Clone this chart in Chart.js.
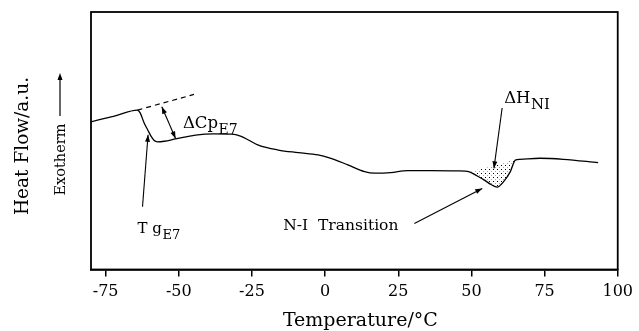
<!DOCTYPE html>
<html>
<head>
<meta charset="utf-8">
<script src="https://cdn.jsdelivr.net/npm/chart.js@4.4.1/dist/chart.umd.min.js"></script>
<style>
  html, body { margin: 0; padding: 0; background: #fff; }
  canvas { display: block; }
</style>
</head>
<body>
<canvas id="c" width="639" height="331"></canvas>
<script>
// ---- Data ----
const temperature = [-80.2, -72.0, -64.1, -63.2, -61.8, -60.6, -59.5, -58.4, -57.3, -55.0, -51.1, -44.3, -38.0, -31.9, -28.9, -26.2, -22.8, -16.0, -9.2, -2.4, 2.0, 7.8, 13.5, 16.9, 22.4, 28.2, 36.0, 45.2, 49.3, 52.0, 54.3, 56.7, 58.8, 61.0, 63.3, 65.0, 66.6, 73.4, 81.4, 93.3];
const heatFlow    = [5.73, 5.96, 6.19, 6.08, 5.68, 5.42, 5.18, 5.01, 4.96, 4.98, 5.07, 5.22, 5.27, 5.26, 5.18, 5.03, 4.83, 4.64, 4.54, 4.45, 4.32, 4.06, 3.80, 3.74, 3.76, 3.84, 3.84, 3.83, 3.79, 3.63, 3.48, 3.30, 3.20, 3.41, 3.80, 4.25, 4.28, 4.32, 4.28, 4.15];
// extrapolated glassy baseline (dashed)
const extrapT = [-64.1, -44.8];
const extrapY = [6.19, 6.80];
// baseline closing the N-I endotherm
const niBaseT = [49.3, 65.0];
const niBaseY = [3.79, 4.25];
// tick labels
const tickValues = [-75, -50, -25, 0, 25, 50, 75, 100];
// annotation arrows [T1, y1, T2, y2]
const arrowDeltaCp = [-55.8, 6.32, -51.1, 5.09];
const arrowTg      = [-62.4, 2.44, -60.5, 5.23];
const arrowDeltaH  = [60.5, 6.27, 57.7, 3.93];
const arrowNI      = [30.5, 1.79, 53.7, 3.15];
// label anchors [T, y]
const labelDeltaCp = [-48.6, 5.51];
const labelTg      = [-64.1, 1.40];
const labelDeltaH  = [61.2, 6.45];
const labelNI      = [-14.3, 1.53];

const FONT = '"DejaVu Serif", "Liberation Serif", serif';

const pts = (xs, ys) => xs.map((x, i) => ({ x: x, y: ys[i] }));
const curvePts = pts(temperature, heatFlow);
const dipPts = curvePts.filter(p => p.x >= niBaseT[0] && p.x <= niBaseT[1]);

// stipple pattern
const pc = document.createElement('canvas');
pc.width = 4; pc.height = 4;
const pctx = pc.getContext('2d');
pctx.fillStyle = '#000';
pctx.fillRect(1, 1, 1, 1);
pctx.fillStyle = 'rgba(0,0,0,0.35)';
pctx.fillRect(3, 3, 1, 1);
const stipple = pctx.createPattern(pc, 'repeat');

function arrowHead(ctx, x1, y1, x2, y2, len, wid) {
  const a = Math.atan2(y2 - y1, x2 - x1);
  ctx.beginPath();
  ctx.moveTo(x2, y2);
  ctx.lineTo(x2 - len * Math.cos(a) + wid * Math.sin(a), y2 - len * Math.sin(a) - wid * Math.cos(a));
  ctx.lineTo(x2 - len * Math.cos(a) - wid * Math.sin(a), y2 - len * Math.sin(a) + wid * Math.cos(a));
  ctx.closePath();
  ctx.fill();
}

function drawArrow(chart, a, both) {
  const ctx = chart.ctx, xs = chart.scales.x, ys = chart.scales.y;
  const x1 = xs.getPixelForValue(a[0]), y1 = ys.getPixelForValue(a[1]);
  const x2 = xs.getPixelForValue(a[2]), y2 = ys.getPixelForValue(a[3]);
  ctx.beginPath();
  ctx.moveTo(x1, y1); ctx.lineTo(x2, y2);
  ctx.stroke();
  arrowHead(ctx, x1, y1, x2, y2, 7, 2.5);
  if (both) arrowHead(ctx, x2, y2, x1, y1, 7, 2.5);
}

function drawSubLabel(chart, anchor, main, sub, size, subSize) {
  const ctx = chart.ctx;
  const x = chart.scales.x.getPixelForValue(anchor[0]);
  const y = chart.scales.y.getPixelForValue(anchor[1]);
  ctx.textBaseline = 'alphabetic';
  ctx.textAlign = 'left';
  ctx.font = size + 'px ' + FONT;
  ctx.fillText(main, x, y);
  const w = ctx.measureText(main).width;
  ctx.font = subSize + 'px ' + FONT;
  ctx.fillText(sub, x + w + 0.5, y + size * 0.36);
}

const decor = {
  id: 'decor',
  afterDraw(chart) {
    const ctx = chart.ctx, ca = chart.chartArea;
    ctx.save();
    ctx.strokeStyle = '#000'; ctx.fillStyle = '#000';
    // frame
    ctx.lineWidth = 1.8;
    ctx.strokeRect(ca.left, ca.top, ca.right - ca.left, ca.bottom - ca.top);
    // arrows
    ctx.lineWidth = 1.1;
    drawArrow(chart, arrowDeltaCp, true);
    drawArrow(chart, arrowTg, false);
    drawArrow(chart, arrowDeltaH, false);
    drawArrow(chart, arrowNI, false);
    // labels
    drawSubLabel(chart, labelDeltaCp, '\u0394Cp', 'E7', 16.5, 14);
    drawSubLabel(chart, labelTg, 'T g', 'E7', 15, 13);
    drawSubLabel(chart, labelDeltaH, '\u0394H', 'NI', 16.5, 15);
    ctx.font = '15.5px ' + FONT;
    ctx.textAlign = 'left'; ctx.textBaseline = 'alphabetic';
    ctx.fillText('N-I  Transition', chart.scales.x.getPixelForValue(labelNI[0]), chart.scales.y.getPixelForValue(labelNI[1]));
    // x axis title
    ctx.font = '19px ' + FONT;
    ctx.textAlign = 'center'; ctx.textBaseline = 'middle';
    ctx.fillText('Temperature/\u00B0C', (ca.left + ca.right) / 2 + 6, 321);
    // y axis titles
    ctx.save();
    ctx.translate(23, 146);
    ctx.rotate(-Math.PI / 2);
    ctx.font = '18.5px ' + FONT;
    ctx.fillText('Heat Flow/a.u.', 0, 0);
    ctx.restore();
    ctx.save();
    ctx.translate(61, 159.5);
    ctx.rotate(-Math.PI / 2);
    ctx.font = '14.5px ' + FONT;
    ctx.fillText('Exotherm', 0, 0);
    ctx.restore();
    ctx.lineWidth = 1.2;
    ctx.beginPath(); ctx.moveTo(60, 116); ctx.lineTo(60, 76); ctx.stroke();
    arrowHead(ctx, 60, 116, 60, 73, 7, 2.5);
    ctx.restore();
  }
};

new Chart(document.getElementById('c'), {
  type: 'line',
  data: {
    datasets: [
      { data: curvePts, borderColor: '#000', borderWidth: 1.3, pointRadius: 0, cubicInterpolationMode: 'monotone', fill: false },
      { data: pts(extrapT, extrapY), borderColor: '#000', borderWidth: 1.2, borderDash: [5, 4], pointRadius: 0, fill: false },
      { data: pts(niBaseT, niBaseY), borderColor: 'rgba(0,0,0,0)', borderWidth: 0, pointRadius: 0, fill: false },
      { data: dipPts, borderColor: 'rgba(0,0,0,0)', borderWidth: 0, pointRadius: 0, cubicInterpolationMode: 'monotone', backgroundColor: stipple, fill: { target: 2 } }
    ]
  },
  options: {
    responsive: false,
    animation: false,
    layout: { padding: { left: 91, right: 17, top: 12, bottom: 0 } },
    plugins: { legend: { display: false }, tooltip: { enabled: false } },
    scales: {
      x: {
        type: 'linear', min: -80, max: 100,
        afterBuildTicks(scale) { scale.ticks = tickValues.map(v => ({ value: v })); },
        afterFit(scale) { scale.height = 61.5; },
        grid: { display: true, drawOnChartArea: false, drawTicks: true, tickLength: 7, color: '#000', lineWidth: 1.5 },
        border: { display: true, color: '#000', width: 1.8 },
        ticks: { color: '#000', font: { family: FONT, size: 16 }, padding: 6, maxRotation: 0, autoSkip: false }
      },
      y: { min: 0, max: 10, display: false }
    }
  },
  plugins: [decor]
});
</script>
</body>
</html>
